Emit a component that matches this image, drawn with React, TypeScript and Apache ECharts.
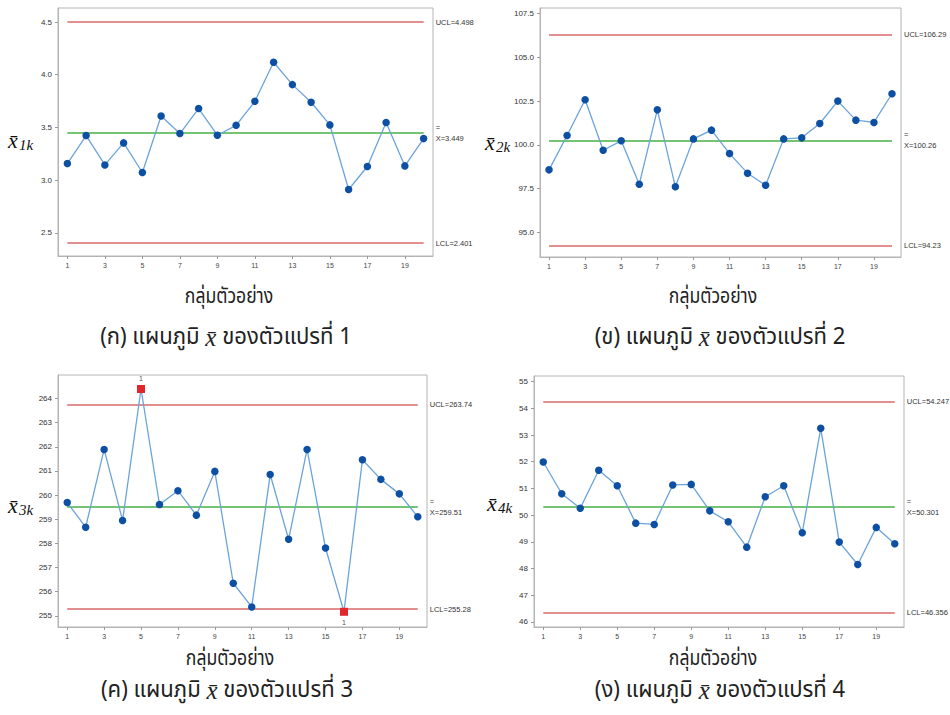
import React, { useEffect, useRef } from "react";
import * as echarts from "echarts";

const samples = ["1","2","3","4","5","6","7","8","9","10","11","12","13","14","15","16","17","18","19","20"];

const var1 = [3.157,3.423,3.144,3.353,3.072,3.609,3.442,3.679,3.426,3.52,3.748,4.118,3.906,3.739,3.524,2.911,3.129,3.546,3.135,3.394];
const var2 = [98.57,100.53,102.58,99.69,100.23,97.75,102.0,97.6,100.34,100.84,99.5,98.38,97.69,100.34,100.4,101.22,102.5,101.41,101.28,102.92];
const var3 = [259.69,258.67,261.89,258.95,264.39,259.61,260.18,259.17,260.98,256.35,255.37,260.85,258.17,261.89,257.81,255.17,261.46,260.65,260.05,259.1];
const var4 = [51.99,50.8,50.26,51.68,51.1,49.7,49.65,51.13,51.15,50.16,49.75,48.8,50.69,51.1,49.34,53.25,48.99,48.15,49.54,48.93];

const limits1 = { ucl: 4.498, mean: 3.449, lcl: 2.401, ul: "UCL=4.498", ml: "X=3.449", ll: "LCL=2.401" };
const limits2 = { ucl: 106.29, mean: 100.26, lcl: 94.23, ul: "UCL=106.29", ml: "X=100.26", ll: "LCL=94.23" };
const limits3 = { ucl: 263.74, mean: 259.51, lcl: 255.28, ul: "UCL=263.74", ml: "X=259.51", ll: "LCL=255.28" };
const limits4 = { ucl: 54.247, mean: 50.301, lcl: 46.356, ul: "UCL=54.247", ml: "X=50.301", ll: "LCL=46.356" };

const ticks1 = [2.5, 3.0, 3.5, 4.0, 4.5];
const ticks2 = [95.0, 97.5, 100.0, 102.5, 105.0, 107.5];
const ticks3 = [255, 256, 257, 258, 259, 260, 261, 262, 263, 264];
const ticks4 = [46, 47, 48, 49, 50, 51, 52, 53, 54, 55];

const range1 = [2.28, 4.633];
const range2 = [93.59, 107.82];
const range3 = [254.54, 264.97];
const range4 = [45.81, 55.21];

const outOfControl3 = [4, 15];

const xTitle = "กลุ่มตัวอย่าง";
const captions = [
  ["(ก) แผนภูมิ ", " ของตัวแปรที่ 1"],
  ["(ข) แผนภูมิ ", " ของตัวแปรที่ 2"],
  ["(ค) แผนภูมิ ", " ของตัวแปรที่ 3"],
  ["(ง) แผนภูมิ ", " ของตัวแปรที่ 4"],
];
const ySubs = ["1k", "2k", "3k", "4k"];

const THAI = "'Noto Sans Thai', 'Noto Sans Thai Looped', 'Loma', 'Garuda', 'Norasi', 'Tlwg Typo', 'DejaVu Sans', sans-serif";
const SERIF = "'Liberation Serif', 'DejaVu Serif', serif";
const SMALL = "'Liberation Sans', 'DejaVu Sans', sans-serif";

const grids = [
  { left: 58, top: 8, width: 375, height: 248 },
  { left: 540, top: 8, width: 361, height: 249 },
  { left: 58, top: 375, width: 369, height: 252 },
  { left: 534, top: 376, width: 370, height: 251 },
];
const titlePos = [
  { x: 229, y: 296, cx: 226, cy: 337 },
  { x: 713, y: 296, cx: 720, cy: 337 },
  { x: 230, y: 658, cx: 227, cy: 690 },
  { x: 713, y: 658, cx: 720, cy: 690 },
];
const yTitlePos = [
  { x: 8, y: 140 },
  { x: 485, y: 142 },
  { x: 8, y: 505 },
  { x: 487, y: 503 },
];

export default function App() {
  const ref = useRef<HTMLDivElement>(null);
  useEffect(() => {
    if (!ref.current) return;
    const chart = echarts.init(ref.current, null, { renderer: "svg" });
    const datas = [var1, var2, var3, var4];
    const lims = [limits1, limits2, limits3, limits4];
    const tks = [ticks1, ticks2, ticks3, ticks4];
    const rngs = [range1, range2, range3, range4];
    const decimals = [1, 1, 0, 0];

    const xAxis: any[] = [];
    const yAxis: any[] = [];
    const series: any[] = [];
    const graphic: any[] = [];

    for (let i = 0; i < 4; i++) {
      xAxis.push({
        type: "category",
        gridIndex: i,
        data: samples,
        boundaryGap: true,
        axisLine: { show: true, lineStyle: { color: "#b4b4b4" } },
        axisTick: { show: true, interval: 1, alignWithLabel: true, length: 3, lineStyle: { color: "#999" } },
        axisLabel: { interval: 1, fontSize: 7, color: "#444", margin: 6, fontFamily: SMALL },
        splitLine: { show: false },
      });
      yAxis.push({
        type: "value",
        gridIndex: i,
        min: rngs[i][0],
        max: rngs[i][1],
        axisLine: { show: true, lineStyle: { color: "#b4b4b4" } },
        axisTick: { show: true, length: 3, customValues: tks[i], lineStyle: { color: "#999" } },
        axisLabel: {
          customValues: tks[i],
          fontSize: 8,
          color: "#333",
          margin: 6,
          fontFamily: SMALL,
          formatter: (v: number) => v.toFixed(decimals[i]),
        },
        splitLine: { show: false },
      });
      const L = lims[i];
      const data: any[] = datas[i].map((v, k) => {
        if (i === 2 && outOfControl3.includes(k)) {
          return {
            value: v,
            symbol: "rect",
            symbolSize: 8,
            itemStyle: { color: "#e3262b" },
            label: {
              show: true,
              formatter: "1",
              position: v > L.mean ? "top" : "bottom",
              distance: 3,
              fontSize: 7,
              color: "#555",
              fontFamily: SMALL,
            },
          };
        }
        return v;
      });
      const lblBase = { fontSize: 7.5, color: "#333", fontFamily: SMALL, position: "end", distance: 12, align: "left" };
      series.push({
        type: "line",
        xAxisIndex: i,
        yAxisIndex: i,
        data,
        symbol: "circle",
        symbolSize: 7.5,
        itemStyle: { color: "#0d4fa3" },
        lineStyle: { color: "#6aa4da", width: 1.3 },
        z: 5,
        markLine: {
          silent: true,
          symbol: ["none", "none"],
          animation: false,
          data: [
            [
              { coord: [samples[0], L.ucl], lineStyle: { color: "#d96a6a", width: 1.6, type: "solid" }, label: { ...lblBase, formatter: L.ul } },
              { coord: [samples[19], L.ucl] },
            ],
            [
              { coord: [samples[0], L.mean], lineStyle: { color: "#74c474", width: 2, type: "solid" }, label: { ...lblBase, formatter: "=\n" + L.ml, lineHeight: 11, padding: [0, 0, 11, 0] } },
              { coord: [samples[19], L.mean] },
            ],
            [
              { coord: [samples[0], L.lcl], lineStyle: { color: "#d96a6a", width: 1.6, type: "solid" }, label: { ...lblBase, formatter: L.ll } },
              { coord: [samples[19], L.lcl] },
            ],
          ],
        },
      });

      const tp = titlePos[i];
      graphic.push({
        type: "text",
        x: tp.x,
        y: tp.y,
        scaleX: 0.8,
        style: { text: xTitle, fontSize: 22, fontFamily: THAI, fill: "#222", align: "center", verticalAlign: "middle" },
      });
      graphic.push({
        type: "text",
        x: tp.cx,
        y: tp.cy,
        scaleX: 0.96,
        style: {
          text: "{t|" + captions[i][0] + "}{x|x̄}{t|" + captions[i][1] + "}",
          align: "center",
          verticalAlign: "middle",
          rich: {
            t: { fontSize: 23, fontFamily: THAI, fill: "#222" },
            x: { fontSize: 26, fontFamily: SERIF, fontStyle: "italic", fill: "#222" },
          },
        },
      });
      const yp = yTitlePos[i];
      graphic.push({
        type: "text",
        x: yp.x,
        y: yp.y,
        style: { text: "x̄", fontSize: 22, fontFamily: SERIF, fontStyle: "italic", fill: "#111", align: "left", verticalAlign: "middle" },
      });
      graphic.push({
        type: "text",
        x: yp.x + 11,
        y: yp.y + 5,
        style: { text: ySubs[i], fontSize: 15, fontFamily: SERIF, fontStyle: "italic", fill: "#111", align: "left", verticalAlign: "middle" },
      });
    }

    chart.setOption({
      animation: false,
      backgroundColor: "#ffffff",
      grid: grids.map((g) => ({ ...g, show: true, borderColor: "#b4b4b4", borderWidth: 1, backgroundColor: "#fff" })),
      xAxis,
      yAxis,
      series,
      graphic,
    });
    return () => chart.dispose();
  }, []);
  return <div ref={ref} style={{ position: "absolute", left: 0, top: 0, width: 950, height: 715 }} />;
}
